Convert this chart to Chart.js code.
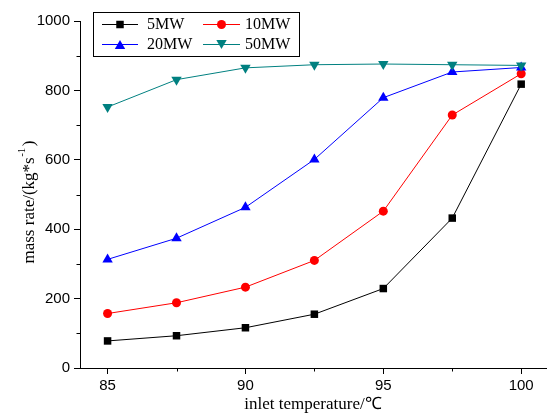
<!DOCTYPE html>
<html>
<head>
<meta charset="utf-8">
<script src="https://cdn.jsdelivr.net/npm/chart.js@4.4.1/dist/chart.umd.min.js"></script>
<style>
  html, body { margin: 0; padding: 0; background: #fff; }
  #wrap { width: 552px; height: 415px; }
</style>
</head>
<body>
<div id="wrap"><canvas id="massChart" width="552" height="415"></canvas></div>
<script>
// inlet temperature (°C)
const temps = [85, 87.5, 90, 92.5, 95, 97.5, 100];
const xTicks = [85, 87.5, 90, 92.5, 95, 97.5, 100];
const yTicks = [0, 100, 200, 300, 400, 500, 600, 700, 800, 900, 1000];

// mass rate (kg/s) per power level
const mw5  = [78, 93, 116, 155, 229, 432, 818];
const mw10 = [157, 188, 233, 310, 452, 729, 848];
const mw20 = [313, 374, 463, 601, 779, 853, 866];
const mw50 = [752, 831, 865, 874, 876, 874, 872];

const seriesNames = ["5MW", "10MW", "20MW", "50MW"];

const SERIF = "'Liberation Serif', 'Times New Roman', serif";
const SANS = "'Liberation Sans', Arial, sans-serif";

function toPoints(vals) {
    return temps.map((t, i) => ({ x: t, y: vals[i] }));
}

const styles = [
    { color: "#000000", shape: "rect", radius: 5.3, rotation: 0 },
    { color: "#ff0000", shape: "circle", radius: 4.5, rotation: 0 },
    { color: "#0000ff", shape: "triangle", radius: 6, rotation: 0 },
    { color: "#008080", shape: "triangle", radius: 6, rotation: 180 }
];

const allData = [mw5, mw10, mw20, mw50];

const datasets = allData.map((vals, i) => ({
    label: seriesNames[i],
    data: toPoints(vals),
    borderColor: styles[i].color,
    backgroundColor: styles[i].color,
    borderWidth: 1,
    pointStyle: styles[i].shape,
    pointRadius: styles[i].radius,
    pointRotation: styles[i].rotation,
    pointBorderWidth: 0,
    pointHoverRadius: styles[i].radius,
    order: 3 - i
}));

// draw a legend marker the same way as the points
function drawMarker(ctx, st, x, y) {
    ctx.save();
    ctx.fillStyle = st.color;
    ctx.beginPath();
    if (st.shape === "rect") {
        const s = st.radius * Math.SQRT1_2;
        ctx.rect(x - s, y - s, 2 * s, 2 * s);
    } else if (st.shape === "circle") {
        ctx.arc(x, y, st.radius, 0, Math.PI * 2);
    } else {
        const r = st.radius;
        const rot = st.rotation * Math.PI / 180;
        for (let k = 0; k < 3; k++) {
            const a = rot - Math.PI / 2 + k * 2 * Math.PI / 3;
            const px = x + r * Math.cos(a);
            const py = y + r * Math.sin(a) + (st.rotation ? -r * 0.25 : r * 0.25);
            if (k === 0) ctx.moveTo(px, py); else ctx.lineTo(px, py);
        }
        ctx.closePath();
    }
    ctx.fill();
    ctx.restore();
}

// minor ticks, y title with superscript, legend box
const extras = {
    id: "extras",
    afterDraw(chart) {
        const ctx = chart.ctx;
        const xs = chart.scales.x, ys = chart.scales.y;

        // minor ticks
        ctx.save();
        ctx.strokeStyle = "#000";
        ctx.lineWidth = 1;
        ctx.beginPath();
        xTicks.forEach(v => {
            if (v % 5 !== 0) {
                const px = Math.round(xs.getPixelForValue(v)) + 0.5;
                ctx.moveTo(px, ys.bottom);
                ctx.lineTo(px, ys.bottom + 3.5);
            }
        });
        yTicks.forEach(v => {
            if (v % 200 !== 0) {
                const py = Math.round(ys.getPixelForValue(v)) + 0.5;
                ctx.moveTo(xs.left, py);
                ctx.lineTo(xs.left - 3.5, py);
            }
        });
        ctx.stroke();
        ctx.restore();

        // y axis title
        ctx.save();
        ctx.translate(34, 202);
        ctx.rotate(-Math.PI / 2);
        ctx.fillStyle = "#000";
        ctx.textBaseline = "alphabetic";
        const mainFont = "17px " + SERIF;
        const supFont = "11px " + SERIF;
        const p1 = "mass rate/(kg*s", p2 = "-1", p3 = ")";
        ctx.font = mainFont;
        const w1 = ctx.measureText(p1).width, w3 = ctx.measureText(p3).width;
        ctx.font = supFont;
        const w2 = ctx.measureText(p2).width;
        let x0 = -(w1 + w2 + w3 + 2) / 2;
        ctx.font = mainFont;
        ctx.fillText(p1, x0, 0);
        ctx.font = supFont;
        ctx.fillText(p2, x0 + w1 + 0.5, -9);
        ctx.font = mainFont;
        ctx.fillText(p3, x0 + w1 + w2 + 2, 0);
        ctx.restore();

        // legend
        ctx.save();
        ctx.fillStyle = "#fff";
        ctx.fillRect(93, 12, 206, 44);
        ctx.strokeStyle = "#000";
        ctx.lineWidth = 1;
        ctx.strokeRect(93.5, 12.5, 206, 44);
        const cols = [{ l: 102, r: 138, t: 147 }, { l: 203, r: 240, t: 245 }];
        const rows = [24, 44];
        ctx.font = "16px " + SERIF;
        ctx.textBaseline = "middle";
        seriesNames.forEach((name, i) => {
            const c = cols[i % 2], y = rows[Math.floor(i / 2)];
            ctx.strokeStyle = styles[i].color;
            ctx.beginPath();
            ctx.moveTo(c.l, y + 0.5);
            ctx.lineTo(c.r, y + 0.5);
            ctx.stroke();
            drawMarker(ctx, styles[i], (c.l + c.r) / 2, y + 0.5);
            ctx.fillStyle = "#000";
            ctx.fillText(name, c.t, y + 1);
        });
        ctx.restore();
    }
};

new Chart(document.getElementById("massChart"), {
    type: "line",
    data: { datasets: datasets },
    options: {
        responsive: false,
        devicePixelRatio: 1,
        animation: false,
        layout: { padding: { top: 21, right: 0, left: 0, bottom: 0 } },
        plugins: {
            legend: { display: false },
            tooltip: { enabled: false }
        },
        scales: {
            x: {
                type: "linear",
                min: 84,
                max: 100.9,
                afterBuildTicks: scale => {
                    scale.ticks = xTicks.map(v => ({ value: v }));
                },
                afterFit: scale => { scale.height = 47; },
                grid: {
                    drawOnChartArea: false,
                    tickLength: 6,
                    tickColor: c => (c.tick && c.tick.value % 5 === 0) ? "#000" : "rgba(0,0,0,0)"
                },
                border: { color: "#000", width: 1 },
                ticks: {
                    autoSkip: false,
                    maxRotation: 0,
                    padding: 3,
                    color: "#000",
                    font: { family: SANS, size: 15 },
                    callback: v => (v % 5 === 0 ? String(v) : "")
                },
                title: {
                    display: true,
                    text: "inlet temperature/℃",
                    color: "#000",
                    font: { family: SERIF, size: 17 },
                    padding: { top: 0, bottom: 0 }
                }
            },
            y: {
                min: 0,
                max: 1000,
                afterBuildTicks: scale => {
                    scale.ticks = yTicks.map(v => ({ value: v }));
                },
                afterFit: scale => { scale.width = 80; },
                grid: {
                    drawOnChartArea: false,
                    tickLength: 6,
                    tickColor: c => (c.tick && c.tick.value % 200 === 0) ? "#000" : "rgba(0,0,0,0)"
                },
                border: { color: "#000", width: 1 },
                ticks: {
                    autoSkip: false,
                    padding: 4,
                    color: "#000",
                    font: { family: SANS, size: 15 },
                    callback: v => (v % 200 === 0 ? String(v) : "")
                }
            }
        }
    },
    plugins: [extras]
});
</script>
</body>
</html>
